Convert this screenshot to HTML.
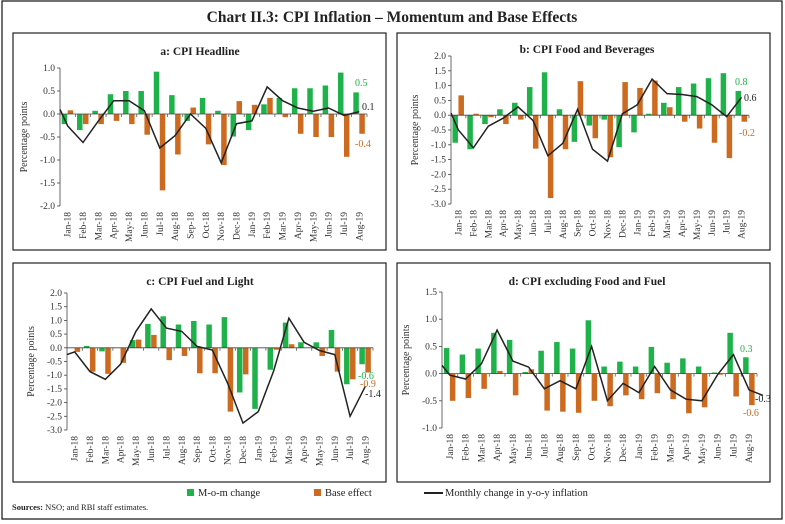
<!DOCTYPE html>
<html><head><meta charset="utf-8"><style>
body{margin:0;background:#fff;}
svg{display:block;font-family:"Liberation Serif",serif;}
</style></head><body>
<svg id="s" width="785" height="524" xmlns="http://www.w3.org/2000/svg">
<rect x="2" y="1" width="780" height="518" fill="none" stroke="#222" stroke-width="1.3"/>
<text x="392" y="22" text-anchor="middle" font-size="15.5" font-weight="bold" fill="#222">Chart II.3: CPI Inflation – Momentum and Base Effects</text>
<rect x="13" y="33" width="373" height="217" fill="none" stroke="#222" stroke-width="1.2"/>
<rect x="397" y="33" width="373" height="217" fill="none" stroke="#222" stroke-width="1.2"/>
<rect x="13" y="263" width="373" height="219" fill="none" stroke="#222" stroke-width="1.2"/>
<rect x="397" y="263" width="373" height="219" fill="none" stroke="#222" stroke-width="1.2"/>
<rect x="187" y="489" width="7" height="7" fill="#1fb24a"/>
<text x="198" y="496" font-size="10.5" fill="#222">M-o-m change</text>
<rect x="314" y="489" width="7" height="7" fill="#cc6a1f"/>
<text x="325" y="496" font-size="10.5" fill="#222">Base effect</text>
<line x1="424" y1="493" x2="443" y2="493" stroke="#222" stroke-width="2"/>
<text x="445" y="496" font-size="10.5" fill="#222">Monthly change in y-o-y inflation</text>
<text x="12" y="510" font-size="8.5" fill="#222"><tspan font-weight="bold">Sources:</tspan> NSO; and RBI staff estimates.</text>
<g id="g"></g>
</svg>
<script>
var months=["Jan-18","Feb-18","Mar-18","Apr-18","May-18","Jun-18","Jul-18","Aug-18","Sep-18","Oct-18","Nov-18","Dec-18","Jan-19","Feb-19","Mar-19","Apr-19","May-19","Jun-19","Jul-19","Aug-19"];
var P=[
{t:"a: CPI Headline",cx:200,ty:55,x0:60,x1:367,ytop:68,ybot:206,vmax:1,vmin:-2,step:0.5,
g:[-0.22,-0.35,0.07,0.43,0.5,0.5,0.92,0.41,-0.15,0.35,0.07,-0.49,-0.35,0.21,0.35,0.56,0.56,0.62,0.9,0.47],
o:[0.08,-0.22,-0.22,-0.15,-0.22,-0.45,-1.66,-0.88,0.14,-0.66,-1.11,0.28,0.2,0.35,-0.07,-0.43,-0.5,-0.5,-0.93,-0.43],
l:[-0.26,-0.62,-0.15,0.29,0.29,0.07,-0.74,-0.47,0,-0.31,-1.06,-0.21,-0.15,0.59,0.29,0.13,0.06,0.13,-0.03,0.05],l0:0.1,
labs:[[355,86,"0.5","#1fb24a"],[362,110,"0.1","#222"],[355,147,"-0.4","#cc6a1f"]]},
{t:"b: CPI Food and Beverages",cx:587,ty:53,x0:451,x1:749,ytop:56,ybot:204,vmax:2,vmin:-3,step:0.5,
g:[-0.93,-1.15,-0.3,0.2,0.42,0.95,1.45,0.2,-0.9,-0.35,-0.15,-1.08,-0.58,0.05,0.42,0.95,1.07,1.25,1.42,0.82],
o:[0.67,0.05,-0.07,-0.3,-0.15,-1.13,-2.8,-1.15,1.15,-0.78,-1.42,1.12,0.92,1.17,0.27,-0.22,-0.45,-0.93,-1.45,-0.22],
l:[-0.5,-1.1,-0.37,-0.1,0.28,-0.18,-1.37,-0.95,0.2,-1.15,-1.55,0.05,0.35,1.22,0.73,0.7,0.63,0.35,-0.05,0.6],l0:0.07,
labs:[[735,85,"0.8","#1fb24a"],[744,101,"0.6","#222"],[739,136,"-0.2","#cc6a1f"]]},
{t:"c: CPI Fuel and Light",cx:200,ty:285,x0:67,x1:373,ytop:293,ybot:430,vmax:2,vmin:-3,step:0.5,
g:[0,0.07,-0.13,0,0.28,0.87,1.15,0.85,0.98,0.85,1.12,-1.63,-2.23,-0.8,0.92,0.2,0.2,0.65,-1.33,-0.6],
o:[-0.15,-0.87,-0.95,-0.55,0.3,0.47,-0.45,-0.3,-0.93,-0.93,-2.33,-0.97,0,-0.07,0.13,0,-0.3,-0.87,-1.15,-0.9],
l:[-0.15,-0.87,-1.15,-0.6,0.6,1.42,0.72,0.6,0.05,-0.08,-1.3,-2.75,-2.33,-0.85,1.08,0.2,-0.1,-0.25,-2.5,-1.4],l0:-0.25,
labs:[[358,379,"-0.6","#1fb24a"],[360,387,"-0.9","#cc6a1f"],[365,397,"-1.4","#222"]]},
{t:"d: CPI excluding Food and Fuel",cx:587,ty:285,x0:442,x1:757,ytop:292,ybot:428,vmax:1.5,vmin:-1,step:0.5,
g:[0.47,0.35,0.46,0.75,0.62,0.03,0.42,0.58,0.46,0.98,0.13,0.22,0.13,0.49,0.2,0.28,0.13,0.02,0.75,0.3],
o:[-0.5,-0.45,-0.28,0.05,-0.4,0.08,-0.68,-0.7,-0.72,-0.5,-0.6,-0.4,-0.47,-0.36,-0.47,-0.73,-0.62,-0.02,-0.42,-0.58],
l:[-0.03,-0.1,0.18,0.8,0.23,0.12,-0.28,-0.13,-0.28,0.5,-0.5,-0.18,-0.35,0.13,-0.3,-0.47,-0.5,-0.02,0.35,-0.3],l0:0.15,lend:-0.4,
labs:[[740,352,"0.3","#1fb24a"],[755,402,"-0.3","#222"],[743,416,"-0.6","#cc6a1f"]]}
];
var h="";
P.forEach(function(p){
 var sc=(p.ybot-p.ytop)/(p.vmax-p.vmin);
 var Y=function(v){return p.ytop+(p.vmax-v)*sc;};
 var w=(p.x1-p.x0)/20, y0=Y(0);
 h+='<text x="'+p.cx+'" y="'+p.ty+'" text-anchor="middle" font-size="11.5" font-weight="bold" fill="#222">'+p.t+'</text>';
 h+='<line x1="'+p.x0+'" y1="'+p.ytop+'" x2="'+p.x0+'" y2="'+p.ybot+'" stroke="#444" stroke-width="0.8"/>';
 for(var v=p.vmin;v<=p.vmax+1e-6;v+=p.step){var y=Y(v);
  h+='<line x1="'+(p.x0-3)+'" y1="'+y+'" x2="'+p.x0+'" y2="'+y+'" stroke="#444" stroke-width="0.8"/>';
  h+='<text x="'+(p.x0-5)+'" y="'+(y+3)+'" text-anchor="end" font-size="9.5" fill="#333">'+v.toFixed(1)+'</text>';}
 h+='<text transform="translate('+(p.x0-33)+','+((p.ytop+p.ybot)/2)+') rotate(-90)" text-anchor="middle" font-size="10" fill="#333">Percentage points</text>';
 var pts=[[p.x0,Y(p.l0)]];
 for(var i=0;i<20;i++){var c=p.x0+w*(i+0.5);
  var gv=p.g[i],ov=p.o[i];
  h+='<rect x="'+(c-6)+'" y="'+Math.min(Y(gv),y0)+'" width="5.5" height="'+Math.abs(Y(gv)-y0)+'" fill="#1fb24a"/>';
  h+='<rect x="'+(c)+'" y="'+Math.min(Y(ov),y0)+'" width="5.5" height="'+Math.abs(Y(ov)-y0)+'" fill="#cc6a1f"/>';
  pts.push([c,Y(p.l[i])]);
  h+='<line x1="'+(p.x0+w*(i+1))+'" y1="'+y0+'" x2="'+(p.x0+w*(i+1))+'" y2="'+(y0+3)+'" stroke="#444" stroke-width="0.7"/>';
  h+='<text transform="translate('+(c+3)+','+(p.ybot+6)+') rotate(-90)" text-anchor="end" font-size="9.5" fill="#333">'+months[i]+'</text>';}
 if(p.lend!==undefined)pts.push([p.x1+6,Y(p.lend)]);
 h+='<line x1="'+p.x0+'" y1="'+y0+'" x2="'+p.x1+'" y2="'+y0+'" stroke="#444" stroke-width="0.8"/>';
 h+='<polyline points="'+pts.map(function(q){return q[0].toFixed(1)+','+q[1].toFixed(1)}).join(' ')+'" fill="none" stroke="#222" stroke-width="1.5"/>';
 p.labs.forEach(function(l){h+='<text x="'+l[0]+'" y="'+l[1]+'" font-size="10" fill="'+l[3]+'">'+l[2]+'</text>';});
});
document.getElementById("g").innerHTML=h;
</script>
</body></html>
